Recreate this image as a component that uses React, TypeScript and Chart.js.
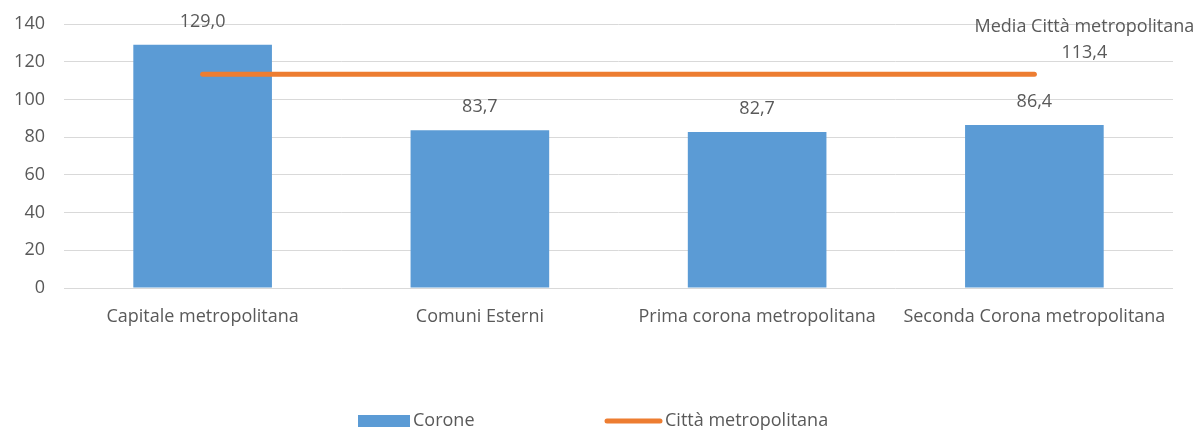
import React, { useEffect, useRef } from "react";
import { Chart, registerables } from "chart.js";

Chart.register(...registerables);

const categories = [
  "Capitale metropolitana",
  "Comuni Esterni",
  "Prima corona metropolitana",
  "Seconda Corona metropolitana",
];
const coroneValues = [129.0, 83.7, 82.7, 86.4];
const cittaValues = [113.4, 113.4, 113.4, 113.4];
const yTicks = [0, 20, 40, 60, 80, 100, 120, 140];
const seriesNames = ["Corone", "Città metropolitana"];
const mediaLabel = "Media Città metropolitana";

const FONT = "'Open Sans', sans-serif";
const FS = 18;
const TEXT = "#595959";
const BLUE = "#5B9BD5";
const ORANGE = "#ED7D31";

const fmt = (v: number) => v.toFixed(1).replace(".", ",");

const labelsPlugin = {
  id: "customLabels",
  afterDatasetsDraw(chart: any) {
    const ctx = chart.ctx;
    ctx.save();
    ctx.font = `${FS}px ${FONT}`;
    ctx.fillStyle = TEXT;
    ctx.textAlign = "center";
    ctx.textBaseline = "middle";
    const barMeta = chart.getDatasetMeta(0);
    barMeta.data.forEach((el: any, i: number) => {
      ctx.fillText(fmt(coroneValues[i]), el.x, el.y - 23);
    });
    const lineMeta = chart.getDatasetMeta(1);
    const last = lineMeta.data[lineMeta.data.length - 1];
    const lx = last.x + 50;
    ctx.fillText(mediaLabel, lx, last.y - 47);
    ctx.fillText(fmt(cittaValues[cittaValues.length - 1]), lx, last.y - 21);

    // legend
    const ly = 421;
    ctx.fillStyle = BLUE;
    ctx.fillRect(358, ly - 6, 52, 12);
    ctx.fillStyle = TEXT;
    ctx.textAlign = "left";
    ctx.fillText(seriesNames[0], 413, ly);
    ctx.strokeStyle = ORANGE;
    ctx.lineWidth = 5;
    ctx.lineCap = "round";
    ctx.beginPath();
    ctx.moveTo(607, ly);
    ctx.lineTo(660, ly);
    ctx.stroke();
    ctx.fillText(seriesNames[1], 665, ly);
    ctx.restore();
  },
};

export default function App() {
  const ref = useRef<HTMLCanvasElement>(null);
  useEffect(() => {
    if (!ref.current) return;
    const chart = new Chart(ref.current, {
      type: "bar",
      data: {
        labels: categories,
        datasets: [
          {
            type: "bar",
            label: seriesNames[0],
            data: coroneValues,
            backgroundColor: BLUE,
            categoryPercentage: 1,
            barPercentage: 0.5,
            order: 2,
          },
          {
            type: "line",
            label: seriesNames[1],
            data: cittaValues,
            borderColor: ORANGE,
            borderWidth: 5,
            borderCapStyle: "round",
            pointRadius: 0,
            order: 1,
          } as any,
        ],
      },
      options: {
        responsive: false,
        animation: false,
        layout: { padding: { left: 4, right: 30, top: 24, bottom: 102 } },
        plugins: { legend: { display: false }, tooltip: { enabled: false } },
        scales: {
          x: {
            offset: true,
            grid: { display: false },
            border: { display: false },
            ticks: { color: TEXT, font: { family: FONT, size: FS }, padding: 10, maxRotation: 0, autoSkip: false },
            afterFit: (s: any) => {
              s.height = 40;
              s.paddingLeft = 0;
              s.paddingRight = 0;
            },
          },
          y: {
            min: 0,
            max: 140,
            afterBuildTicks: (s: any) => { s.ticks = yTicks.map((v) => ({ value: v })); },
            grid: { color: "#D9D9D9", lineWidth: 1, drawTicks: false },
            border: { display: false },
            ticks: { color: TEXT, font: { family: FONT, size: FS }, padding: 19 },
            afterFit: (s: any) => {
              s.width = 60;
              s.paddingTop = 0;
              s.paddingBottom = 0;
            },
          },
        },
      },
      plugins: [labelsPlugin],
    });
    return () => chart.destroy();
  }, []);
  return (
    <div style={{ position: "fixed", left: 0, top: 0, width: 1203, height: 430, background: "#fff" }}>
      <canvas ref={ref} width={1203} height={430} />
    </div>
  );
}
